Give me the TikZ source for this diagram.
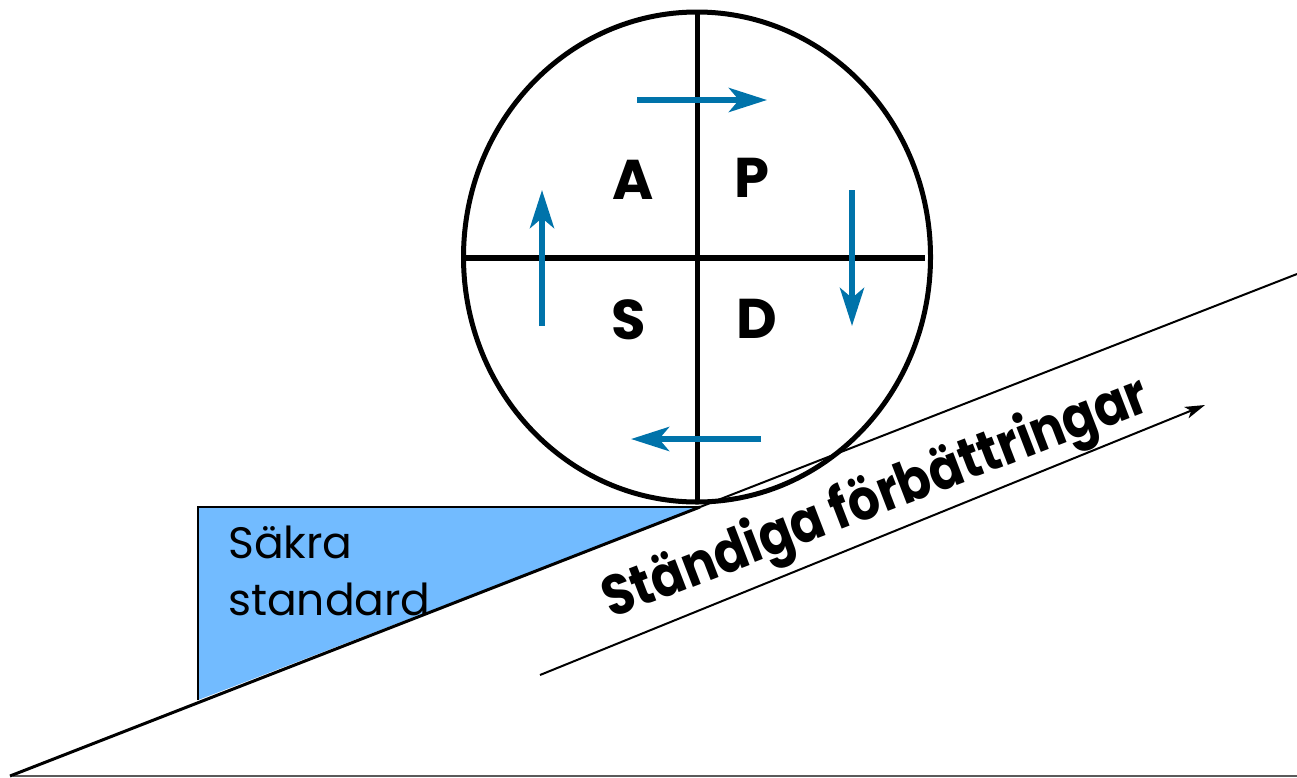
\documentclass[tikz,border=0pt]{standalone}
\usepackage{fontspec}
\setmainfont{Poppins}
\usetikzlibrary{arrows.meta}
\definecolor{wedgeblue}{RGB}{114,187,255}
\definecolor{arrowblue}{RGB}{0,115,170}
\definecolor{groundgray}{RGB}{90,90,90}
\begin{document}
\begin{tikzpicture}[x=1pt,y=-1pt,
  cyclearrow/.style={draw=arrowblue, line width=6pt, -{Stealth[length=38pt,width=24pt,inset=10pt]}},
  letter/.style={font=\fontsize{56}{60}\selectfont\bfseries, inner sep=0pt},
  stdtext/.style={font=\fontsize{44}{48}\selectfont, inner sep=0pt, anchor=base west},
  heavy/.style={line width=5pt},
]
\useasboundingbox (0,0) rectangle (1297,777);
% slope and wedge
\coordinate (foot) at (10,776);
\coordinate (wl) at (198,700);
\coordinate (wt) at (198,507);
\coordinate (tp) at (700,507);
\coordinate (slopeend) at (1297,274);
\coordinate (g0) at (13,776);
\coordinate (g1) at (1297,776);
\fill[wedgeblue] (wt) -- (tp) -- (wl) -- cycle;
\draw[line width=1.5pt] (wl) -- (wt) -- (tp);
\draw[groundgray, line width=1.5pt] (g0) -- (g1);
\draw[line width=3pt] (foot) -- (tp);
\draw[line width=2pt] (tp) -- (slopeend);
% PDCA wheel
\coordinate (c) at (697,257);
\draw[heavy] (c) ellipse [x radius=233.5pt, y radius=245pt];
\coordinate (vt) at (697,12);
\coordinate (vb) at (697,502);
\coordinate (hl) at (465,258);
\coordinate (hr) at (925,258);
\draw[heavy] (vt) -- (vb);
\draw[line width=6pt] (hl) -- (hr);
% cycle arrows
\coordinate (a1s) at (637,100); \coordinate (a1e) at (767,100);
\coordinate (a2s) at (852,190); \coordinate (a2e) at (852,326);
\coordinate (a3s) at (761,439); \coordinate (a3e) at (631,439);
\coordinate (a4s) at (542,326); \coordinate (a4e) at (542,190);
\draw[cyclearrow] (a1s) -- (a1e);
\draw[cyclearrow] (a2s) -- (a2e);
\draw[cyclearrow] (a3s) -- (a3e);
\draw[cyclearrow] (a4s) -- (a4e);
% letters
\node[letter] (A) at (633,180) {A};
\node[letter] (P) at (752,178) {P};
\node[letter] (S) at (629,320) {S};
\node[letter] (D) at (757,319) {D};
% wedge text
\node[stdtext] (sakra) at (228,558) {Säkra};
\node[stdtext] (standard) at (228,615) {standard};
% continuous improvement
\coordinate (ls) at (540,675);
\coordinate (le) at (1205,405);
\draw[line width=2pt, -{Stealth[length=20pt,width=12pt,inset=5pt]}] (ls) -- (le);
\node[rotate=21.1, anchor=base, inner sep=0pt] (sf) at (882,514)
  {\scalebox{1}[1.15]{\resizebox{580pt}{!}{\bfseries Ständiga förbättringar}}};
\end{tikzpicture}
\end{document}
